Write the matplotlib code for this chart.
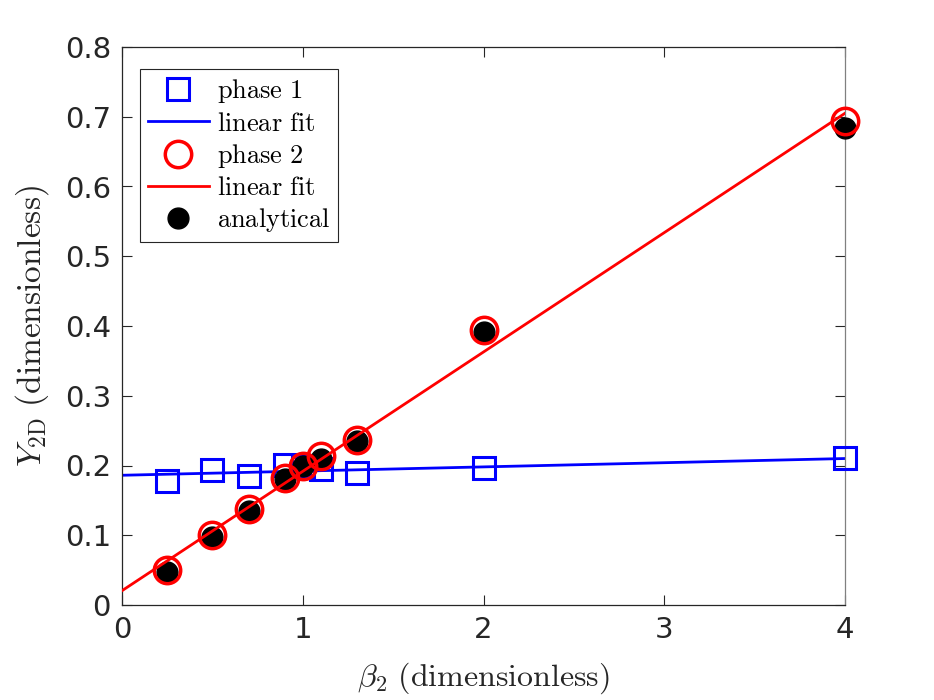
import numpy as np
import matplotlib.pyplot as plt

plt.rcParams['mathtext.fontset'] = 'cm'

# data
beta = [0.25, 0.5, 0.7, 0.9, 1.0, 1.1, 1.3, 2.0, 4.0]
phase1 = [0.178, 0.193, 0.185, 0.201, 0.199, 0.195, 0.189, 0.196, 0.211]
phase2 = [0.050, 0.100, 0.137, 0.182, 0.200, 0.213, 0.237, 0.394, 0.694]
analytical = [0.048, 0.098, 0.135, 0.180, 0.199, 0.210, 0.235, 0.391, 0.684]
fit_x = [0.0, 4.0]
fit1 = [0.186, 0.210]
fit2 = [0.0205, 0.705]

fig = plt.figure(figsize=(9.34, 7.0), dpi=100)
ax = fig.add_axes([122/934, 1-605/700, (845-122)/934, (605-47)/700])

ax.plot(beta, phase1, 's', mfc='none', mec='#0000ff', mew=2.2, ms=16, label=r'$\mathrm{phase\ 1}$', zorder=3, clip_on=False)
ax.plot(fit_x, fit1, '-', color='#0000ff', lw=2, label=r'$\mathrm{linear\ fit}$', zorder=2)
ax.plot(beta, phase2, 'o', mfc='none', mec='#ff0000', mew=2.5, ms=19, label=r'$\mathrm{phase\ 2}$', zorder=5, clip_on=False)
ax.plot(fit_x, fit2, '-', color='#ff0000', lw=2, label=r'$\mathrm{linear\ fit}$', zorder=6)
ax.plot(beta, analytical, 'o', color='black', ms=15, label=r'$\mathrm{analytical}$', zorder=4, clip_on=False)

ax.set_xlim(0, 4)
ax.set_ylim(0, 0.8)
ax.set_xticks([0, 1, 2, 3, 4])
ax.set_yticks(np.arange(0, 0.81, 0.1))
ax.set_yticklabels(['0', '0.1', '0.2', '0.3', '0.4', '0.5', '0.6', '0.7', '0.8'])

dark = '#262626'
ax.tick_params(direction='in', length=7, width=0.8, colors=dark, labelsize=21,
               top=True, right=True, pad=8)
for s in ['left', 'bottom', 'top']:
    ax.spines[s].set_color(dark)
ax.spines['right'].set_color('#808080')
for s in ax.spines.values():
    s.set_linewidth(0.9)

ax.set_xlabel(r'$\beta_2\ \mathrm{(dimensionless)}$', fontsize=23, color=dark, labelpad=12)
ax.set_ylabel(r'$Y_{\mathrm{2D}}\ \mathrm{(dimensionless)}$', fontsize=24, color=dark, labelpad=10)

leg = ax.legend(loc='upper left', fontsize=19, handlelength=2.3, handletextpad=0.3,
                labelspacing=0.2, borderpad=0.3, fancybox=False, framealpha=1,
                bbox_to_anchor=(0.025, 0.96), borderaxespad=0)
leg.get_frame().set_edgecolor(dark)
leg.get_frame().set_linewidth(0.8)

fig.savefig('out.png', dpi=100)
